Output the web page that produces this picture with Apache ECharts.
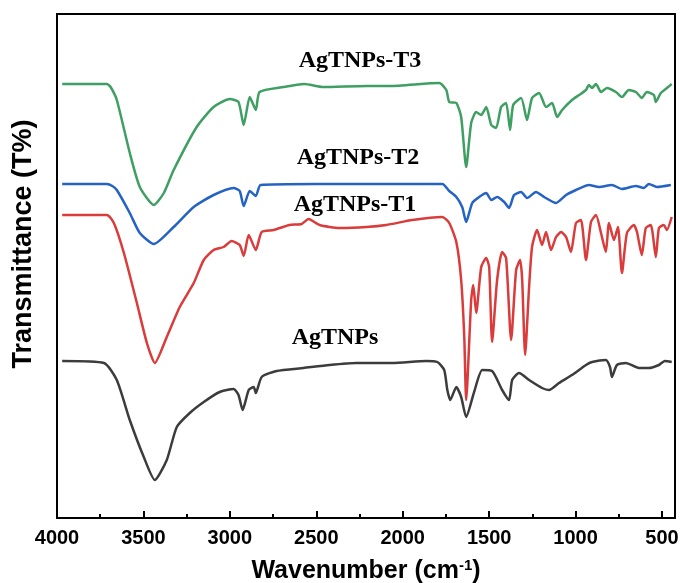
<!DOCTYPE html>
<html>
<head>
<meta charset="utf-8">
<script src="https://cdn.jsdelivr.net/npm/echarts@6/dist/echarts.min.js"></script>
<style>
  html, body { margin: 0; padding: 0; background: #fff; }
  #chart { width: 680px; height: 583px; }
</style>
</head>
<body>
<div id="chart"></div>
<script>
// FTIR spectra, [wavenumber, transmittance (arbitrary, offset)]
const agtnpsT3 = [
  [3970, 434], [3711, 434], [3690, 431], [3654, 418], [3579, 365], [3521, 331], [3440, 313],
  [3382, 325], [3325, 348], [3192, 391], [3094, 411], [3000, 419], [2950, 416], [2920, 393],
  [2885, 421], [2850, 408], [2828, 426], [2690, 431], [2570, 434], [2460, 431], [2210, 432],
  [2077, 432], [1789, 435], [1748, 428], [1731, 416], [1690, 415], [1662, 401], [1633, 351],
  [1604, 395], [1575, 406], [1546, 403], [1517, 411], [1488, 393], [1460, 390], [1431, 411],
  [1402, 415], [1379, 388], [1361, 413], [1315, 420], [1281, 398], [1252, 420], [1211, 425],
  [1171, 411], [1136, 415], [1107, 401], [1078, 408], [1021, 418], [980, 423], [940, 428],
  [923, 433], [905, 430], [882, 434], [853, 426], [819, 430], [767, 426], [732, 421],
  [692, 428], [651, 426], [617, 420], [588, 426], [547, 423], [536, 416], [507, 425],
  [472, 430], [444, 434]
];
const agtnpsT2 = [
  [3970, 334], [3711, 334], [3680, 332], [3654, 328], [3579, 305], [3521, 285], [3440, 274],
  [3325, 291], [3209, 311], [3094, 323], [2978, 330], [2943, 327], [2920, 312], [2885, 327],
  [2850, 322], [2822, 333], [2500, 334], [2200, 334], [1771, 334], [1731, 327], [1690, 321],
  [1656, 311], [1633, 296], [1598, 315], [1558, 321], [1517, 325], [1488, 318], [1454, 321],
  [1413, 316], [1385, 310], [1356, 323], [1315, 326], [1281, 320], [1229, 326], [1182, 321],
  [1113, 315], [1055, 323], [998, 328], [923, 333], [865, 331], [790, 333], [732, 329],
  [651, 332], [605, 330], [576, 334], [530, 331], [449, 333]
];
const agtnpsT1 = [
  [3970, 303], [3711, 303], [3671, 295], [3613, 265], [3538, 215], [3480, 175], [3434, 155],
  [3365, 181], [3290, 211], [3209, 235], [3151, 258], [3094, 268], [3036, 271], [2990, 277],
  [2943, 273], [2920, 262], [2891, 283], [2850, 268], [2816, 286], [2747, 288], [2655, 293],
  [2585, 294], [2545, 299], [2481, 293], [2366, 290], [2210, 291], [2095, 293], [1945, 298],
  [1771, 301], [1731, 295], [1690, 276], [1662, 238], [1644, 181], [1633, 118], [1604, 218],
  [1592, 233], [1575, 205], [1546, 251], [1517, 260], [1500, 251], [1483, 176], [1454, 238],
  [1425, 266], [1402, 260], [1373, 178], [1344, 248], [1321, 258], [1309, 238], [1292, 163],
  [1269, 231], [1252, 271], [1223, 288], [1194, 273], [1171, 286], [1142, 268], [1113, 281],
  [1084, 286], [1055, 281], [1027, 266], [998, 295], [969, 298], [940, 258], [911, 296],
  [882, 303], [853, 285], [825, 266], [807, 295], [778, 278], [755, 291], [732, 245],
  [703, 285], [663, 293], [645, 286], [617, 263], [594, 290], [565, 293], [536, 261],
  [518, 290], [490, 293], [472, 288], [444, 301]
];
const agtnps = [
  [3970, 157], [3728, 155], [3654, 138], [3579, 98], [3498, 61], [3434, 38], [3365, 58],
  [3307, 91], [3232, 105], [3151, 116], [3059, 126], [2978, 129], [2950, 123], [2926, 108],
  [2891, 128], [2862, 131], [2850, 125], [2816, 141], [2730, 147], [2574, 150], [2424, 153],
  [2268, 155], [2060, 155], [1864, 157], [1800, 156], [1760, 148], [1742, 128], [1725, 118],
  [1690, 131], [1662, 121], [1633, 101], [1587, 126], [1540, 148], [1483, 147], [1425, 128],
  [1385, 118], [1367, 138], [1327, 145], [1269, 138], [1194, 130], [1154, 128], [1096, 135],
  [1021, 143], [940, 153], [905, 156], [825, 158], [801, 151], [790, 141], [761, 153],
  [709, 155], [634, 150], [576, 150], [518, 153], [484, 157], [444, 156]
];

const majorTicks = [4000, 3500, 3000, 2500, 2000, 1500, 1000, 500];
const minorTicks = [3750, 3250, 2750, 2250, 1750, 1250, 750];
const seriesNames = ['AgTNPs-T3', 'AgTNPs-T2', 'AgTNPs-T1', 'AgTNPs'];
const colors = ['#3f9f63', '#2463c4', '#da3b3b', '#3c3c3c'];

const chart = echarts.init(document.getElementById('chart'));

const axisLineStyle = { show: true, lineStyle: { color: '#000', width: 2 } };
const xBase = { type: 'value', min: 425, max: 4000, inverse: true, splitLine: { show: false } };

const lineSeries = (name, data, color) => ({
  name,
  type: 'line',
  data,
  showSymbol: false,
  smooth: 0.2,
  lineStyle: { color, width: 2.5 },
  z: 3
});

const labelText = (text, x, y) => ({
  type: 'text',
  x, y,
  style: {
    text,
    font: 'bold 24px "Liberation Serif", "Times New Roman", serif',
    fill: '#000',
    align: 'center',
    verticalAlign: 'middle'
  }
});

chart.setOption({
  animation: false,
  backgroundColor: '#fff',
  grid: { left: 57, right: 5, top: 14, bottom: 65, containLabel: false, outerBoundsMode: 'none' },
  xAxis: [
    Object.assign({}, xBase, {
      position: 'bottom',
      axisLine: axisLineStyle,
      axisTick: { show: true, inside: true, length: 7, lineStyle: { color: '#000', width: 2 }, customValues: majorTicks },
      axisLabel: {
        customValues: majorTicks,
        formatter: (v) => String(v),
        margin: 10,
        color: '#000',
        fontSize: 20,
        fontWeight: 'bold',
        fontFamily: '"Liberation Sans", Arial, sans-serif'
      },
      name: 'Wavenumber (cm{sup|-1})',
      nameLocation: 'middle',
      nameGap: 40,
      nameTextStyle: {
        color: '#000',
        fontSize: 25,
        fontWeight: 'bold',
        fontFamily: '"Liberation Sans", Arial, sans-serif',
        rich: {
          sup: {
            fontSize: 15,
            fontWeight: 'bold',
            fontFamily: '"Liberation Sans", Arial, sans-serif',
            color: '#000',
            verticalAlign: 'top',
            padding: [0, 0, 11, 0]
          }
        }
      }
    }),
    Object.assign({}, xBase, {
      position: 'bottom',
      axisLine: { show: false },
      axisTick: { show: true, inside: true, length: 4, lineStyle: { color: '#000', width: 2 }, customValues: minorTicks },
      axisLabel: { show: false }
    }),
    Object.assign({}, xBase, {
      position: 'top',
      axisLine: axisLineStyle,
      axisTick: { show: false },
      axisLabel: { show: false }
    })
  ],
  yAxis: [
    { type: 'value', min: 0, max: 504, position: 'left', axisLine: axisLineStyle,
      axisTick: { show: false }, axisLabel: { show: false }, splitLine: { show: false } },
    { type: 'value', min: 0, max: 504, position: 'right', axisLine: axisLineStyle,
      axisTick: { show: false }, axisLabel: { show: false }, splitLine: { show: false } }
  ],
  graphic: [
    labelText(seriesNames[0], 360, 61),
    labelText(seriesNames[1], 358, 158),
    labelText(seriesNames[2], 355, 205),
    labelText(seriesNames[3], 335, 338),
    {
      type: 'text',
      x: 24, y: 244,
      rotation: Math.PI / 2,
      style: {
        text: 'Transmittance (T%)',
        font: 'bold 27px "Liberation Sans", Arial, sans-serif',
        fill: '#000',
        align: 'center',
        verticalAlign: 'middle'
      }
    }
  ],
  series: [
    lineSeries(seriesNames[0], agtnpsT3, colors[0]),
    lineSeries(seriesNames[1], agtnpsT2, colors[1]),
    lineSeries(seriesNames[2], agtnpsT1, colors[2]),
    lineSeries(seriesNames[3], agtnps, colors[3])
  ]
});
</script>
</body>
</html>
